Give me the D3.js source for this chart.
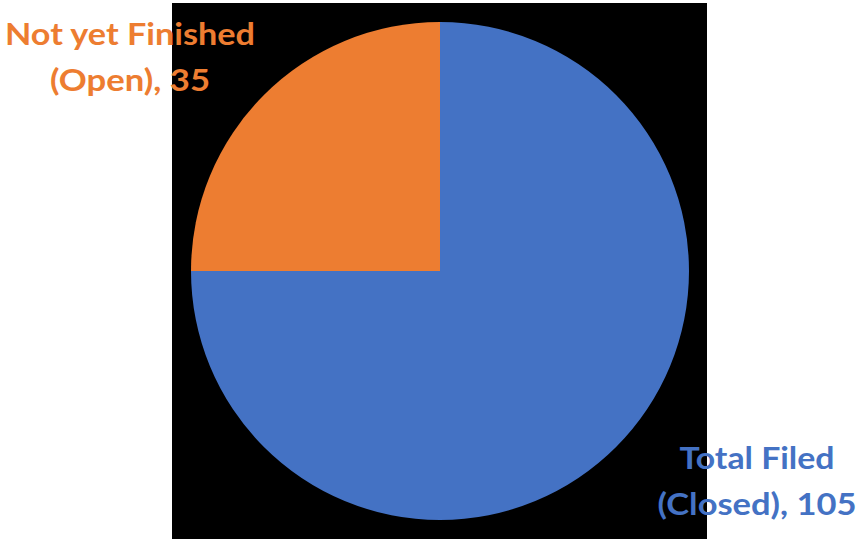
<!DOCTYPE html>
<html>
<head>
<meta charset="utf-8">
<script src="https://cdn.jsdelivr.net/npm/d3@7"></script>
<style>
  body { margin: 0; background: #fff; }
  svg { display: block; }
</style>
</head>
<body>
<svg id="chart" width="859" height="539"></svg>
<script>
// slice data, order as drawn clockwise from 12 o'clock
const categories = ['Total Filed (Closed)', 'Not yet Finished (Open)'];
const values = [105, 35];
const colors = ['#4472C4', '#ED7D31'];
const labelLines = [['Total Filed', '(Closed), 105'], ['Not yet Finished', '(Open), 35']];

const svg = d3.select('#chart');

// black plot background
svg.append('rect')
    .attr('x', 172).attr('y', 3)
    .attr('width', 535).attr('height', 536)
    .attr('fill', '#000');

const cx = 440, cy = 271, r = 249;

const pie = d3.pie().sort(null).value(d => d);
const arc = d3.arc().innerRadius(0).outerRadius(r);

const g = svg.append('g').attr('transform', `translate(${cx},${cy})`);

g.selectAll('path')
    .data(pie(values))
    .join('path')
    .attr('d', arc)
    .attr('fill', (d, i) => colors[i]);

// labels: [centre x, first baseline, line widths]
const labelPos = [
    {x: 757, y: 469, widths: [155, 199]},
    {x: 130, y: 45, widths: [250, 160]}
];

labelLines.forEach((lines, i) => {
    const t = svg.append('text')
        .attr('text-anchor', 'middle')
        .attr('font-family', 'Lato, "Open Sans", sans-serif')
        .attr('font-weight', 'bold')
        .attr('font-size', 31)
        .attr('fill', colors[i]);
    lines.forEach((ln, j) => {
        t.append('tspan')
            .attr('x', labelPos[i].x)
            .attr('y', labelPos[i].y + j * 46)
            .attr('textLength', labelPos[i].widths[j])
            .attr('lengthAdjust', 'spacingAndGlyphs')
            .text(ln);
    });
});
</script>
</body>
</html>
